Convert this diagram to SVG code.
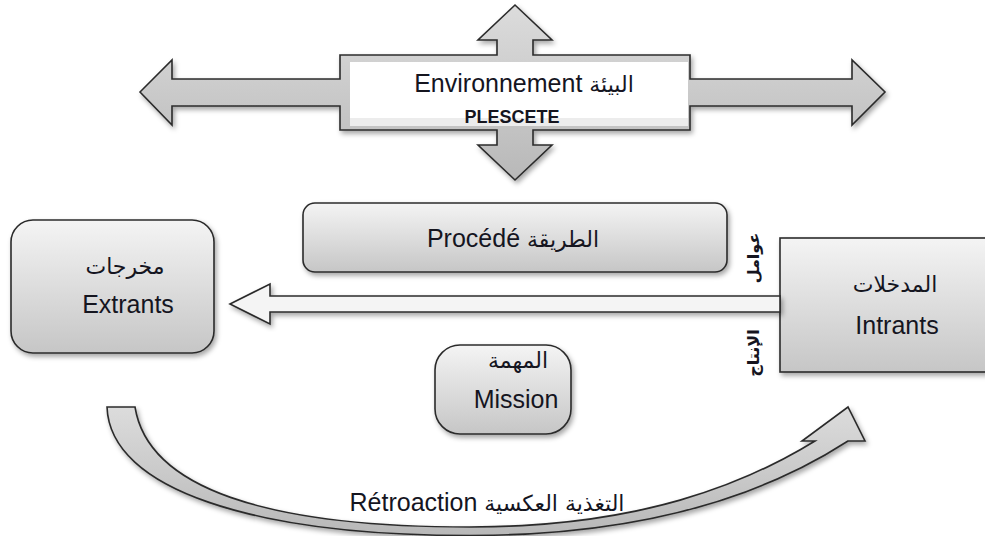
<svg xmlns="http://www.w3.org/2000/svg" width="985" height="536" viewBox="0 0 985 536">
<defs>
<linearGradient id="gBox" x1="0" y1="0" x2="0" y2="1">
<stop offset="0" stop-color="#f4f4f4"/>
<stop offset="1" stop-color="#c6c6c6"/>
</linearGradient>
<linearGradient id="gArrow" x1="0" y1="0" x2="0" y2="1">
<stop offset="0" stop-color="#dcdcdc"/>
<stop offset="1" stop-color="#b8b8b8"/>
</linearGradient>
<filter id="sh" x="-10%" y="-10%" width="125%" height="130%">
<feDropShadow dx="2" dy="3" stdDeviation="2.5" flood-color="#000" flood-opacity="0.35"/>
</filter>
<style>
.box{fill:url(#gBox);stroke:#2b2b2b;stroke-width:1.6;filter:url(#sh)}
.arr{fill:url(#gArrow);stroke:#2b2b2b;stroke-width:1.6;stroke-linejoin:miter;filter:url(#sh)}
.t{font-family:"Liberation Sans","DejaVu Sans",sans-serif;font-size:25px;fill:#15151f;text-anchor:middle}
.ar{font-family:"DejaVu Sans",sans-serif;font-size:22px}
.b{font-weight:bold;font-size:18px}
.v{font-family:"DejaVu Sans",sans-serif;font-size:16px;font-weight:bold}
</style>
</defs>

<g id="environnement">
<path class="arr" d="M140,92 L172,60 L172,79 L340,79 L340,55 L497,55 L497,40 L478,40 L515,5 L552,40 L533,40 L533,55 L690,55 L690,79 L852,79 L852,60 L885,92 L852,125 L852,106 L690,106 L690,130 L533,130 L533,145 L552,145 L515,180 L478,145 L497,145 L497,130 L340,130 L340,106 L172,106 L172,125 Z"/>
<rect x="350" y="62" width="338" height="64" fill="#ffffff"/>
<rect x="350" y="118" width="338" height="8" fill="#ececec"/>
<text class="t" x="524" y="92">Environnement <tspan class="ar" font-size="24px">البيئة</tspan></text>
<text class="t b" x="512" y="123">PLESCETE</text>
</g>

<g id="procede">
<rect class="box" x="303" y="203" width="424" height="69" rx="12"/>
<text class="t" x="513" y="247" font-size="26px">Procédé <tspan class="ar">الطريقة</tspan></text>
</g>

<g id="extrants">
<rect class="box" x="11" y="220" width="203" height="133" rx="22"/>
<text class="t ar" x="125" y="274" font-size="23px">مخرجات</text>
<text class="t" x="128" y="313" font-size="24px">Extrants</text>
</g>

<g id="intrants">
<rect class="box" x="780" y="238" width="210" height="134"/>
<text class="t ar" x="895" y="292" font-size="23px">المدخلات</text>
<text class="t" x="897" y="334">Intrants</text>
<text class="t v" transform="translate(759,258) rotate(-90)">عوامل</text>
<text class="t v" transform="translate(759,353) rotate(-90)">الإنتاج</text>
</g>

<g id="mission">
<rect class="box" x="435" y="345" width="136" height="89" rx="25"/>
<text class="t ar" x="518" y="368" font-size="21px">المهمة</text>
<text class="t" x="516" y="408">Mission</text>
</g>

<g id="connectors">
<path d="M230,304 L270,284 L270,296 L780,296 L780,312 L270,312 L270,324 Z" fill="#f4f4f4" stroke="#2b2b2b" stroke-width="1.6" filter="url(#sh)"/>
<path class="arr" d="M107,407 L135,407 C148,488 265,527 470,527 C640,527 745,484 815,441 L802,441 L848,407 L865,441 L848,441 C760,498 640,535.5 470,535.5 C255,535.5 110,490 107,407 Z"/>
<text class="t" x="487" y="511">Rétroaction <tspan class="ar">التغذية العكسية</tspan></text>
</g>
</svg>
